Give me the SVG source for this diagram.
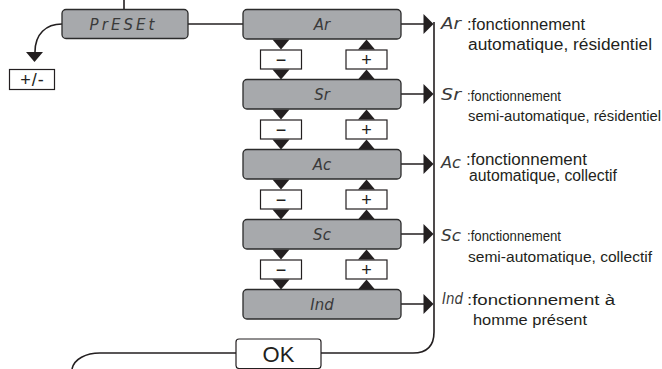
<svg xmlns="http://www.w3.org/2000/svg" width="662" height="369" viewBox="0 0 662 369">
<style>
.box{fill:#a7a9ac;stroke:#2b2b2b;stroke-width:1.3}
.key{fill:#fff;stroke:#231f20;stroke-width:1.2}
.ln{fill:none;stroke:#231f20;stroke-width:1.6}
.tri{fill:#231f20}
.seg{font-family:"DejaVu Sans","Liberation Sans",sans-serif;font-style:italic;font-size:15px;fill:#3a3a3a;text-anchor:middle}
.segl{font-family:"DejaVu Sans","Liberation Sans",sans-serif;font-style:italic;font-size:16px;fill:#3a3a3a}
.k{font-family:"Liberation Sans",Arial,sans-serif;font-size:18px;fill:#231f20;text-anchor:middle}
.big{font-family:"Liberation Sans",Arial,sans-serif;font-size:16px;fill:#231f20}
.sm{font-family:"Liberation Sans",Arial,sans-serif;font-size:14px;fill:#231f20}
</style>
<defs>
<path id="down" d="M-8.5,0 L8.5,0 L0,10 Z"/>
<path id="up" d="M-8.5,0 L8.5,0 L0,-10 Z"/>
<path id="rarr" d="M-10,-10 L0,0 L-10,10 Z"/>
</defs>

<g id="connectors">
<path class="ln" d="M124,0 V9"/>
<path class="ln" d="M188,24 H243"/>
<path class="ln" d="M62,24 C46,24 35,34 35,52"/>
<use href="#down" class="tri" x="34.5" y="52"/>
<path class="ln" d="M401,24 H424 M401,94 H424 M401,164 H424 M401,234 H424 M401,304 H424"/>
<use href="#rarr" class="tri" x="433.5" y="24"/>
<use href="#rarr" class="tri" x="433.5" y="94"/>
<use href="#rarr" class="tri" x="433.5" y="164"/>
<use href="#rarr" class="tri" x="433.5" y="234"/>
<use href="#rarr" class="tri" x="433.5" y="304"/>
<path class="ln" d="M434,22 V332 Q434,353 413,353 H321"/>
<path class="ln" d="M236,353 H100 C86,353 74,359 72,369"/>
<use href="#down" class="tri" x="281" y="39.5"/>
<use href="#down" class="tri" x="281" y="69.5"/>
<use href="#up" class="tri" x="366.5" y="49.5"/>
<use href="#up" class="tri" x="366.5" y="79.5"/>
<use href="#down" class="tri" x="281" y="109.5"/>
<use href="#down" class="tri" x="281" y="139.5"/>
<use href="#up" class="tri" x="366.5" y="119.5"/>
<use href="#up" class="tri" x="366.5" y="149.5"/>
<use href="#down" class="tri" x="281" y="179.5"/>
<use href="#down" class="tri" x="281" y="209.5"/>
<use href="#up" class="tri" x="366.5" y="189.5"/>
<use href="#up" class="tri" x="366.5" y="219.5"/>
<use href="#down" class="tri" x="281" y="249.5"/>
<use href="#down" class="tri" x="281" y="279.5"/>
<use href="#up" class="tri" x="366.5" y="259.5"/>
<use href="#up" class="tri" x="366.5" y="289.5"/>
</g>

<g id="preset"><rect class="box" x="62" y="9.5" width="126" height="29" rx="4"/><text class="seg" x="122" y="30" textLength="65" lengthAdjust="spacing">PrESEt</text></g>
<g id="plusminus"><rect class="key" x="9.5" y="69.5" width="45" height="20"/><text class="k" x="32.5" y="86" font-size="20" letter-spacing="1">+/-</text></g>

<g id="node-ar"><rect class="box" x="243" y="9.5" width="158" height="29.5" rx="4"/><text class="seg" x="322" y="30">Ar</text></g>
<g id="node-sr"><rect class="box" x="243" y="79.5" width="158" height="29.5" rx="4"/><text class="seg" x="322" y="100">Sr</text></g>
<g id="node-ac"><rect class="box" x="243" y="149.5" width="158" height="29.5" rx="4"/><text class="seg" x="322" y="170">Ac</text></g>
<g id="node-sc"><rect class="box" x="243" y="219.5" width="158" height="29.5" rx="4"/><text class="seg" x="322" y="240">Sc</text></g>
<g id="node-ind"><rect class="box" x="243" y="289.5" width="158" height="29.5" rx="4"/><text class="seg" x="322" y="310">Ind</text></g>

<g id="keys-1"><rect class="key" x="260.5" y="50" width="41" height="19"/><text class="k" x="281" y="66">−</text><rect class="key" x="346" y="50" width="41" height="19"/><text class="k" x="366.5" y="66">+</text></g>
<g id="keys-2"><rect class="key" x="260.5" y="120" width="41" height="19"/><text class="k" x="281" y="136">−</text><rect class="key" x="346" y="120" width="41" height="19"/><text class="k" x="366.5" y="136">+</text></g>
<g id="keys-3"><rect class="key" x="260.5" y="190" width="41" height="19"/><text class="k" x="281" y="206">−</text><rect class="key" x="346" y="190" width="41" height="19"/><text class="k" x="366.5" y="206">+</text></g>
<g id="keys-4"><rect class="key" x="260.5" y="260" width="41" height="19"/><text class="k" x="281" y="276">−</text><rect class="key" x="346" y="260" width="41" height="19"/><text class="k" x="366.5" y="276">+</text></g>

<g id="ok"><rect class="key" x="236" y="339" width="85" height="29.5" rx="3"/><text x="278.5" y="362" font-family="Liberation Sans,Arial,sans-serif" font-size="22" fill="#231f20" text-anchor="middle">OK</text></g>

<g id="desc-ar"><text class="segl" x="441" y="29" textLength="20" lengthAdjust="spacingAndGlyphs">Ar</text><text class="big" x="467" y="30" textLength="118" lengthAdjust="spacingAndGlyphs">:fonctionnement</text><text class="big" x="468" y="50" textLength="184" lengthAdjust="spacingAndGlyphs">automatique, résidentiel</text></g>
<g id="desc-sr"><text class="segl" x="441" y="100" textLength="20" lengthAdjust="spacingAndGlyphs">Sr</text><text class="sm" x="467" y="101" textLength="94" lengthAdjust="spacingAndGlyphs">:fonctionnement</text><text class="sm" x="468" y="121" textLength="193" lengthAdjust="spacingAndGlyphs">semi-automatique, résidentiel</text></g>
<g id="desc-ac"><text class="segl" x="441" y="168" textLength="20" lengthAdjust="spacingAndGlyphs">Ac</text><text class="big" x="466" y="165" textLength="121" lengthAdjust="spacingAndGlyphs">:fonctionnement</text><text class="big" x="469" y="181" textLength="148" lengthAdjust="spacingAndGlyphs">automatique, collectif</text></g>
<g id="desc-sc"><text class="segl" x="441" y="241" textLength="20" lengthAdjust="spacingAndGlyphs">Sc</text><text class="sm" x="467" y="241" textLength="94" lengthAdjust="spacingAndGlyphs">:fonctionnement</text><text class="sm" x="468" y="262" textLength="184" lengthAdjust="spacingAndGlyphs">semi-automatique, collectif</text></g>
<g id="desc-ind"><text class="segl" x="442" y="304" textLength="21" lengthAdjust="spacingAndGlyphs">Ind</text><text class="sm" x="467" y="305" textLength="148" lengthAdjust="spacingAndGlyphs">:fonctionnement à</text><text class="sm" x="473" y="325" textLength="114" lengthAdjust="spacingAndGlyphs">homme présent</text></g>
</svg>
